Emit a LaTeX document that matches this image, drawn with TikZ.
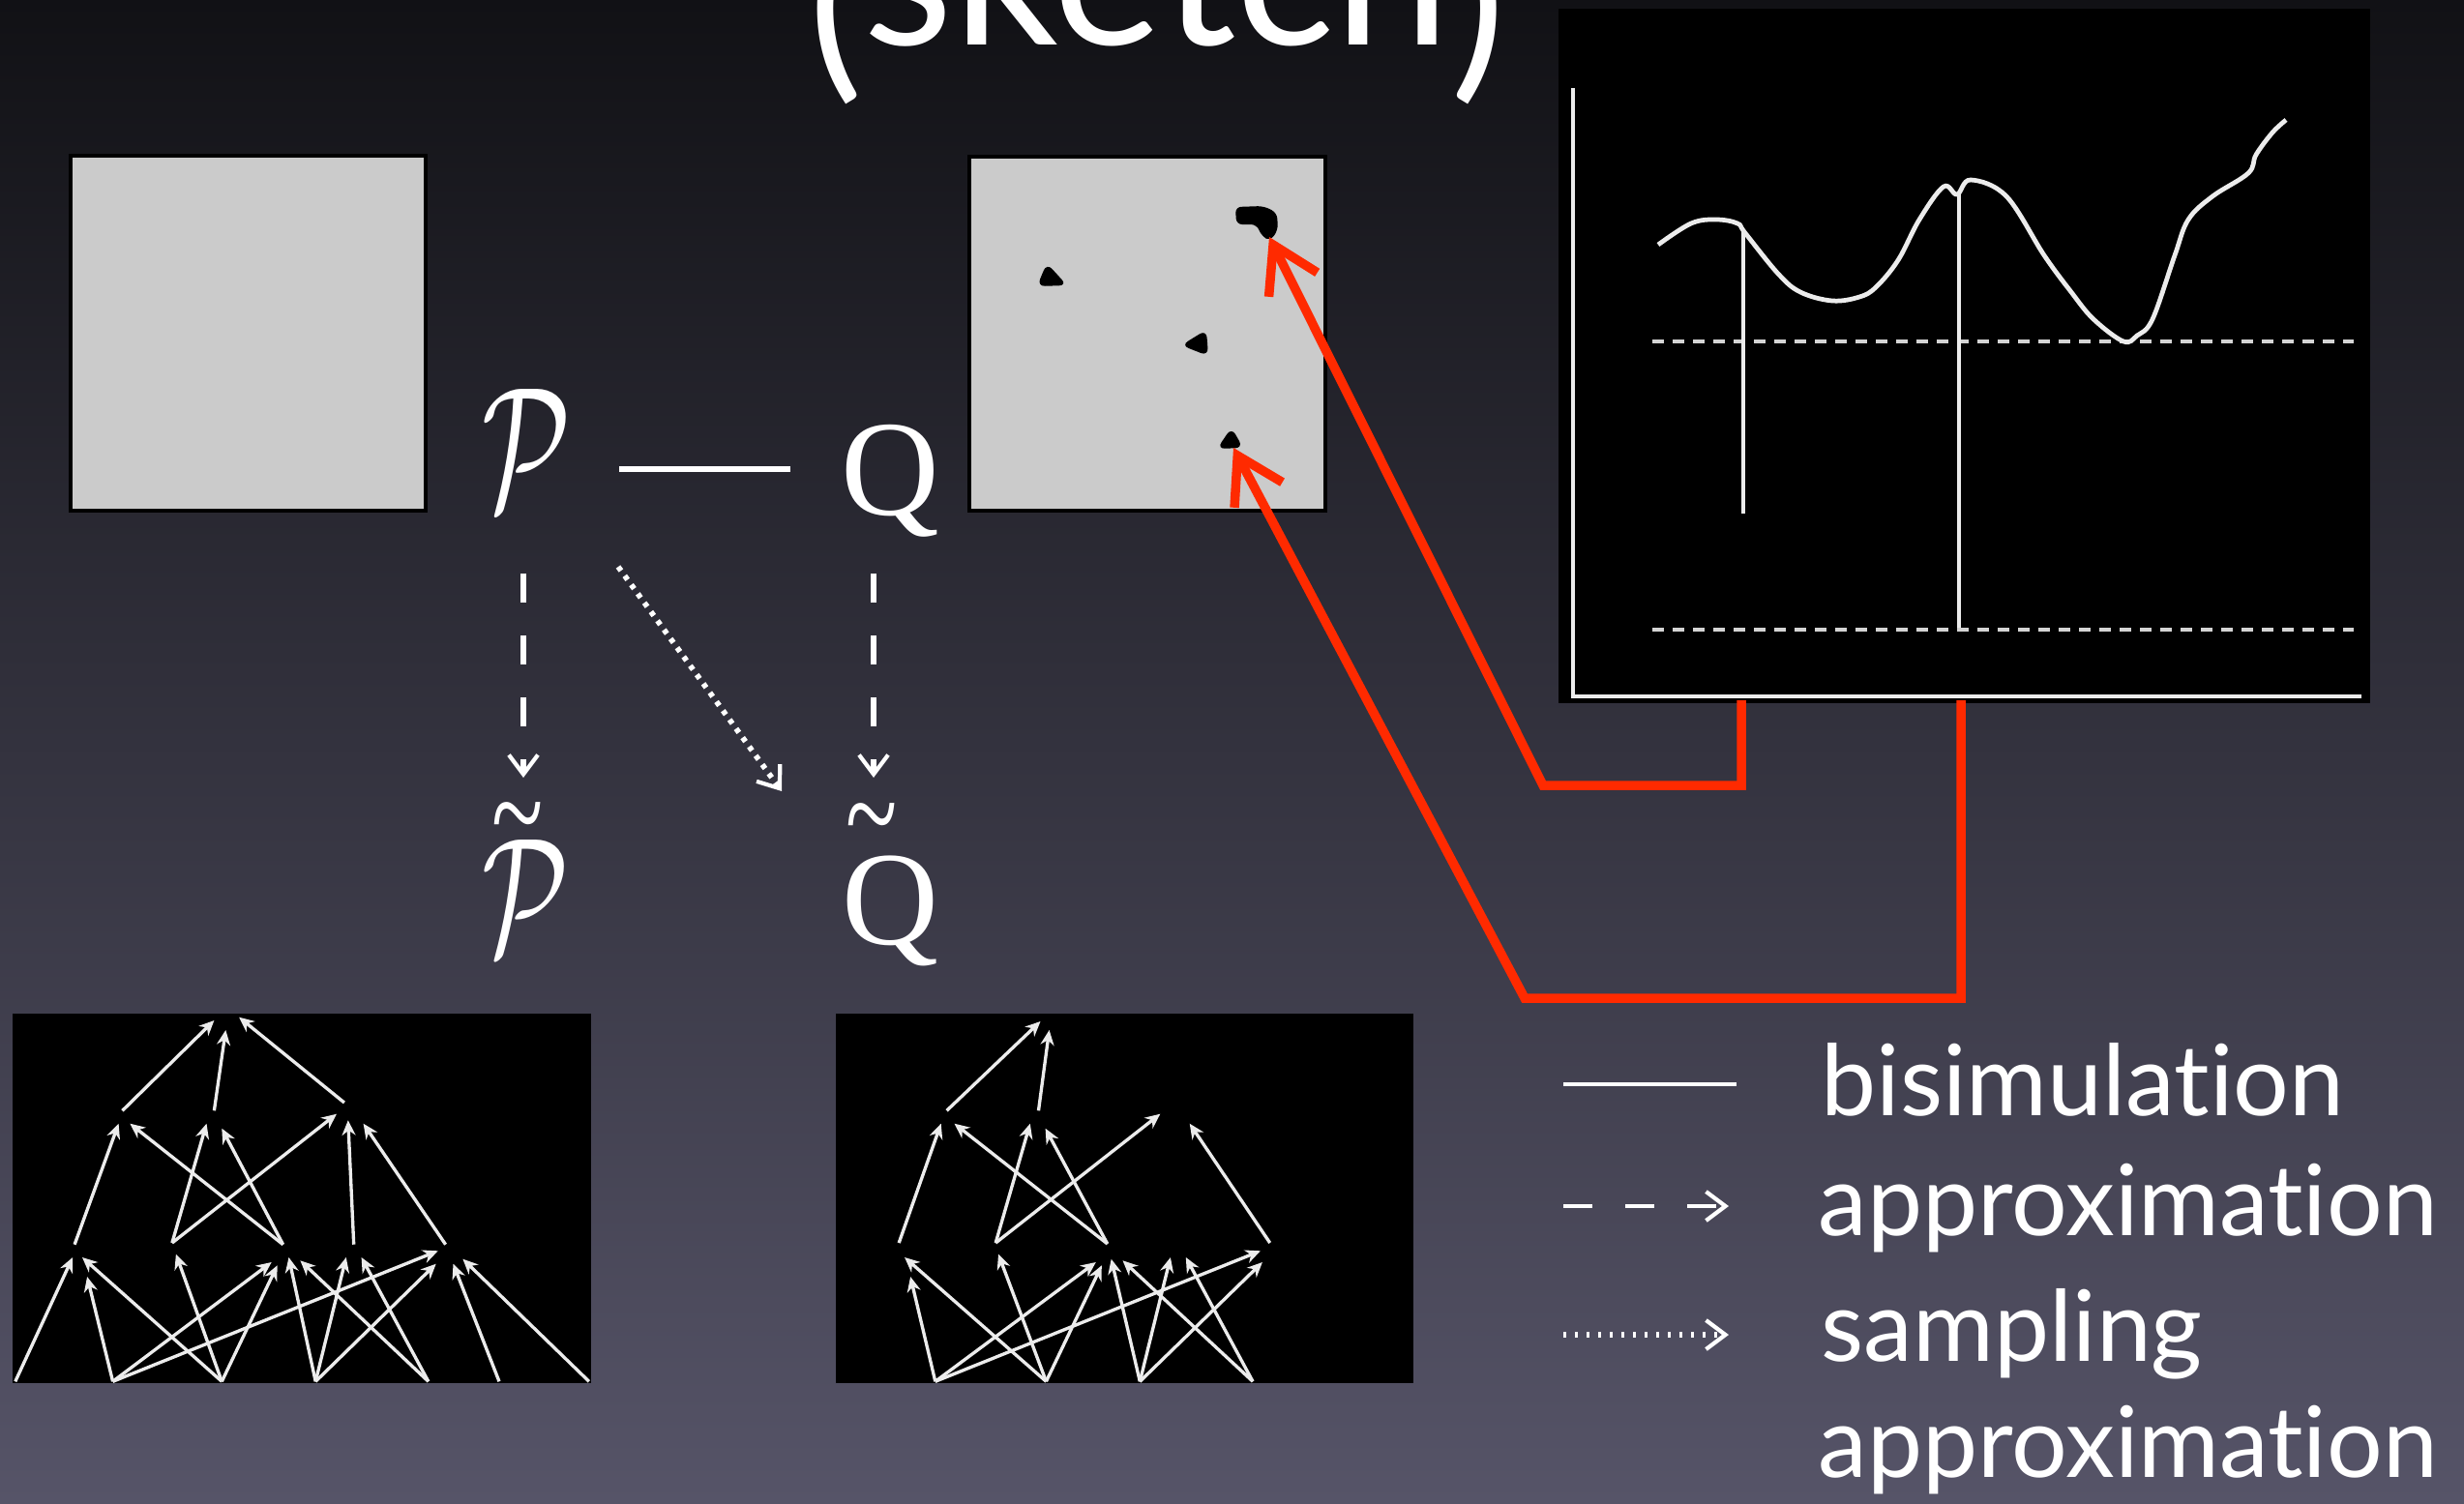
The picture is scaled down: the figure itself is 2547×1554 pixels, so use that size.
\documentclass[tikz,border=0pt]{standalone}
\usepackage{fontspec}
\setmainfont{Lato}[Ligatures={NoCommon}]
\newfontfamily\qfont{Liberation Serif}
\usepackage{graphicx}
\usetikzlibrary{arrows.meta}
\definecolor{bgtop}{RGB}{17,17,21}
\definecolor{bgmid}{RGB}{52,52,63}
\definecolor{bgbot}{RGB}{86,84,104}
\definecolor{boxgray}{RGB}{203,203,203}
\definecolor{redline}{RGB}{255,42,0}
\definecolor{linew}{RGB}{236,236,236}
\begin{document}
\begin{tikzpicture}[x=0.1mm,y=-0.1mm,
  graybox/.style={fill=boxgray,draw=black,line width=1pt},
  gedge/.style={draw=linew,line width=0.95pt,-{Stealth[length=4.4pt,width=4pt]}},
  chartline/.style={draw=linew,line width=1.35pt},
  chartdash/.style={draw=linew!90!black,line width=1.1pt,dash pattern=on 1.2mm off 0.9mm},
  redarrow/.style={draw=redline,line width=0.95mm,-{Straight Barb[length=4.6mm,width=5.6mm]}},
  bisim/.style={draw=white,line width=1.6pt},
  approx/.style={draw=white,line width=1.9pt,dash pattern=on 3mm off 3.4mm,-{Straight Barb[length=2mm,width=3mm,line width=1.2pt]}},
  sampl/.style={draw=white,line width=1.6pt,dash pattern=on 0.5mm off 0.65mm,-{Straight Barb[length=2mm,width=3mm,line width=1.2pt]}},
  lbl/.style={text=white,inner sep=0pt,font=\fontsize{29pt}{35pt}\selectfont,anchor=base west},
  sym/.style={text=white,inner sep=0pt}
]
\useasboundingbox (0,0) rectangle (2547,1554);
\clip (0,0) rectangle (2547,1554);
\shade[top color=bgtop,middle color=bgmid,bottom color=bgbot] (0,0) rectangle (2547,1554);

% title
\node[text=white,inner sep=0pt,anchor=base] (title) at (1196,46) {\fontsize{61pt}{61pt}\selectfont \raisebox{-3mm}{(}sketch\raisebox{-3mm}{)}};

% gray boxes
\draw[graybox] (73,161) rectangle (440,528);
\draw[graybox] (1002,162) rectangle (1370,528);
% blobs
\fill[black,rounded corners=0.6mm] (1277,214) -- (1306,213) -- (1320,220) -- (1321,238) -- (1313,249) -- (1304,244) -- (1299,232) -- (1278,232) -- cycle;
\fill[black,rounded corners=0.8mm] (1082,272) -- (1103,295) -- (1072,296) -- cycle;
\fill[black,rounded corners=0.8mm] (1247,341) -- (1249,368) -- (1221,357) -- cycle;
\fill[black,rounded corners=0.8mm] (1273,442) -- (1285,463) -- (1258,464) -- cycle;
\coordinate (blobA) at (1312,245);
\coordinate (blobB) at (1275,463);

% chart
\fill[black] (1611,9) rectangle (2450,727);
\draw[chartline] (1626,91) -- (1626,720) -- (2441,720);
\draw[chartdash] (1708,353) -- (2433,353);
\draw[chartdash] (1708,651) -- (2433,651);
\draw[chartline] (1802,240) -- (1802,531);
\draw[chartline] (2025,198) -- (2025,649);
\draw[chartline] plot[smooth,tension=0.6] coordinates {(1714,253) (1748,231) (1774,227) (1796,231) (1804,241) (1838,283) (1861,302) (1894,311) (1922,307) (1939,297) (1962,269) (1984,227) (2009,193) (2023,201) (2037,186) (2074,203) (2113,264) (2141,302) (2164,330) (2195,353) (2209,347) (2225,330) (2248,264) (2262,227) (2287,203) (2324,179) (2332,160) (2349,137) (2363,124)};
\coordinate (c1) at (1800,724);
\coordinate (c2) at (2027,724);

% red connectors
\coordinate (r1b) at (1800,812);
\coordinate (r1c) at (1595,812);
\coordinate (r2b) at (2027,1032);
\coordinate (r2c) at (1576,1032);
\draw[redarrow] (c1) -- (r1b) -- (r1c) -- (blobA);
\draw[redarrow] (c2) -- (r2b) -- (r2c) -- (blobB);

% graphs
\fill[black] (13,1048) rectangle (611,1430);
\fill[black] (864,1048) rectangle (1461,1430);
\foreach \a/\b/\c/\d in {
126.5/1148.3/221.4/1055, 221.4/1148.3/233.3/1065, 355.9/1140/247.1/1051.7,
77.1/1286.7/122.6/1161.7, 177.9/1285/213.5/1161.7, 177.9/1285/348/1151.7,
292.6/1286.7/134.4/1161.7, 292.6/1286.7/229.3/1166.7, 365.7/1286.7/359.8/1158.3,
460.6/1286.7/375.6/1161.7,
15.8/1428.3/75.1/1300, 116.6/1428.3/90.1/1320, 116.6/1428.3/280.7/1305,
116.6/1428.3/452.7/1293.3, 229.3/1428.3/85/1300, 229.3/1428.3/181.9/1296.7,
229.3/1428.3/286.6/1308.3, 326.2/1428.3/298.5/1300, 326.2/1428.3/357.8/1300,
326.2/1428.3/450.7/1306.7, 442.8/1428.3/310.4/1303.3, 442.8/1428.3/373.6/1300,
516/1428.3/468.5/1306.7, 608.9/1428.3/478.4/1301.7}
  \draw[gedge] (\a,\b) -- (\c,\d);
\foreach \a/\b/\c/\d in {
978.6/1148.3/1075.5/1056, 1073.5/1148.3/1084.6/1065,
929.2/1285/972.7/1161.7, 1029.2/1285/1064.8/1161.7, 1029.2/1285/1199.3/1151.7,
1144.7/1286/986.5/1161.7, 1144.7/1286/1080.6/1166.7, 1312.7/1285/1229.7/1161.7,
966.8/1428.3/941.1/1320, 966.8/1428.3/1132.8/1305, 966.8/1428.3/1302.9/1293.3,
1081.4/1428.3/935.1/1300, 1081.4/1428.3/1032/1296.7, 1081.4/1428.3/1138.8/1308.3,
1178.3/1428.3/1148.7/1301.7, 1178.3/1428.3/1209.9/1300, 1178.3/1428.3/1304.9/1305,
1295/1428.3/1160.5/1303.3, 1295/1428.3/1225.8/1300}
  \draw[gedge] (\a,\b) -- (\c,\d);

% symbols
\node[sym] (P) at (544,464) {\resizebox*{9.2mm}{12.4mm}{$\mathcal{P}$}};
\node[sym] (Q) at (920,497) {\resizebox*{!}{11.6mm}{\qfont Q}};
\node[sym,anchor=base] (tPt) at (535,886) {\scalebox{1}[1.4]{\qfont\fontsize{28pt}{28pt}\selectfont\textasciitilde}};
\node[sym,anchor=base] (tQt) at (901,887) {\scalebox{1}[1.4]{\qfont\fontsize{28pt}{28pt}\selectfont\textasciitilde}};
\node[sym] (Pt) at (543,927) {\resizebox*{9mm}{11.8mm}{$\mathcal{P}$}};
\node[sym] (Qt) at (920,942) {\resizebox*{!}{11.4mm}{\qfont Q}};

\coordinate (bL) at (640,485);
\coordinate (bR) at (817,485);
\draw[bisim] (bL) -- (bR);
\coordinate (a1s) at (541,593);
\coordinate (a1e) at (541,804);
\coordinate (a2s) at (903,593);
\coordinate (a2e) at (903,804);
\draw[approx] (a1s) -- (a1e);
\draw[approx] (a2s) -- (a2e);
\coordinate (s1s) at (639,586);
\coordinate (s1e) at (808,818);
\draw[sampl] (s1s) -- (s1e);

% legend
\coordinate (l1s) at (1616,1121);
\coordinate (l1e) at (1795,1121);
\coordinate (l2s) at (1616,1247);
\coordinate (l2e) at (1787,1247);
\coordinate (l3s) at (1616,1380);
\coordinate (l3e) at (1787,1380);
\draw[bisim,line width=1.4pt] (l1s) -- (l1e);
\draw[approx,line width=1.3pt] (l2s) -- (l2e);
\draw[sampl,dash pattern=on 0.3mm off 0.9mm,line width=1.7pt] (l3s) -- (l3e);
\node[lbl] (t1) at (1882,1153) {bisimulation};
\node[lbl] (t2) at (1879,1277) {approximation};
\node[lbl] (t3) at (1882,1407) {sampling};
\node[lbl] (t4) at (1879,1527) {approximation};
\end{tikzpicture}
\end{document}
